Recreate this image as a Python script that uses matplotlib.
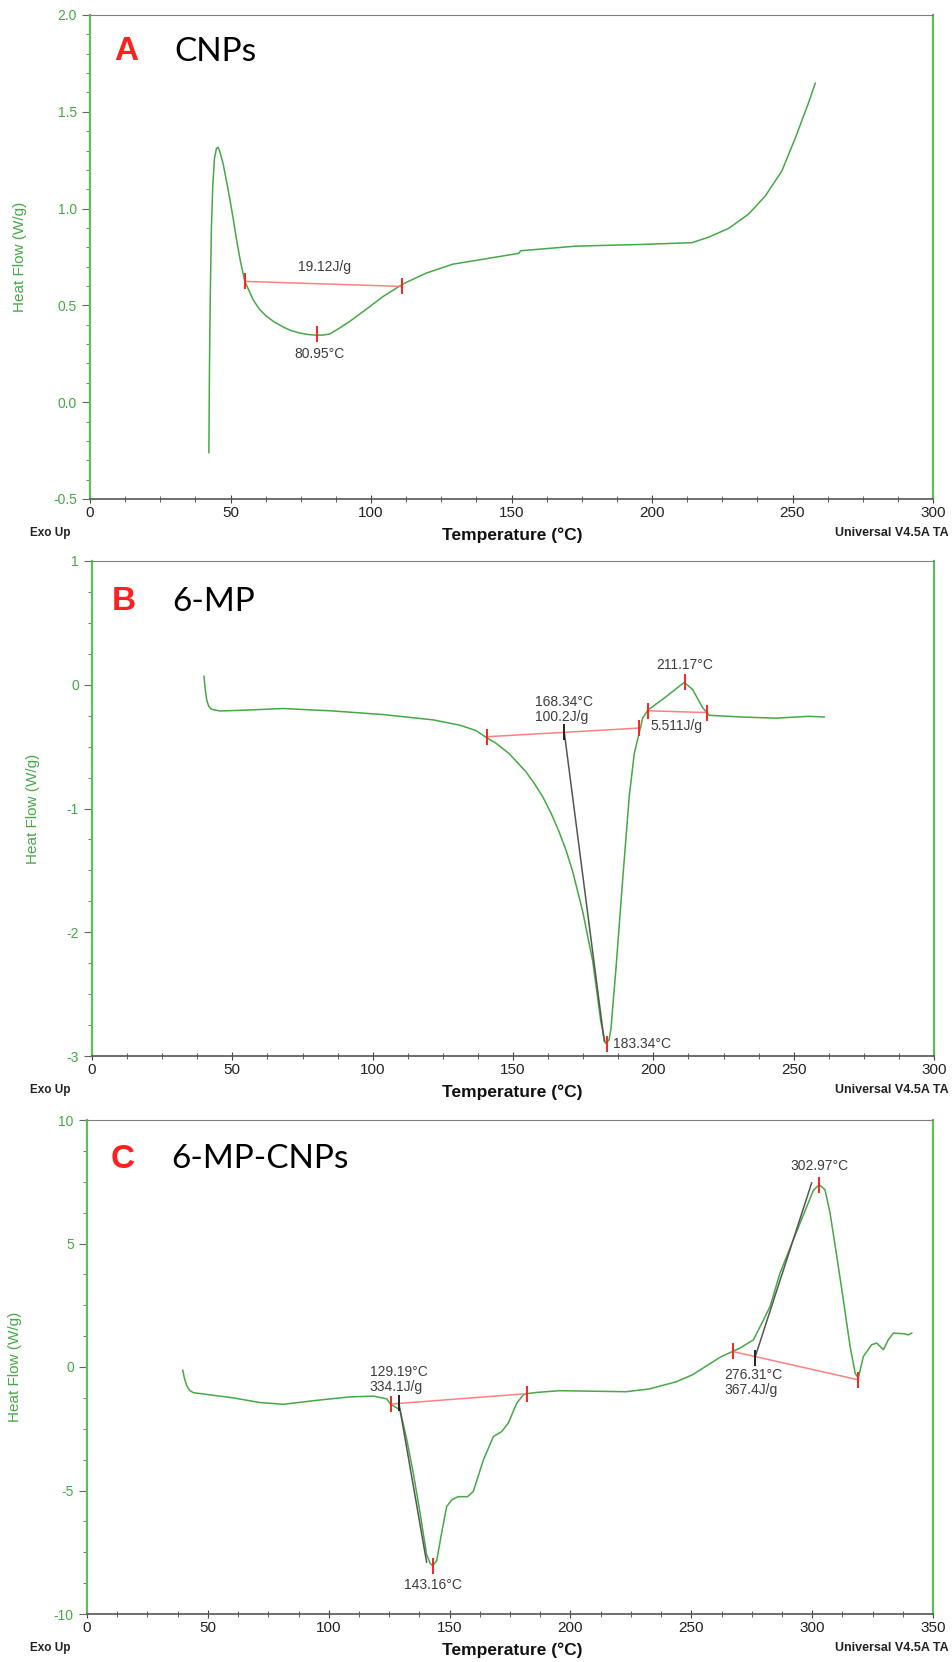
import matplotlib
matplotlib.use("Agg")
import matplotlib.pyplot as plt
from matplotlib.ticker import MultipleLocator, FormatStrFormatter

plt.rcParams["axes.unicode_minus"] = False
plt.rcParams["font.family"] = ["Liberation Sans", "DejaVu Sans"]

# Данные кривых ДСК (температура, тепловой поток)
t_a = [42.3, 42.5, 42.8, 43.2, 43.7, 44.3, 45.0, 45.6, 46.3, 47.4, 48.6, 49.8, 51.0, 52.1, 53.5,
       55.1, 58.1, 60.3, 62.8, 65.5, 68.7, 71.5, 74.7, 77.5, 80.6, 83.0, 85.3, 88.5, 92.4, 98.4,
       104.3, 111.4, 119.7, 129.1, 137.2, 152.6, 153.2, 172.8, 196.5, 214.2, 220.1, 227.3,
       234.4, 240.3, 246.2, 250.9, 255.7, 258.1]
hf_a = [-0.26, 0.15, 0.55, 0.9, 1.12, 1.26, 1.31, 1.317, 1.29, 1.23, 1.14, 1.046, 0.945, 0.843,
        0.73, 0.624, 0.528, 0.48, 0.444, 0.415, 0.389, 0.37, 0.357, 0.35, 0.346, 0.347, 0.352,
        0.38, 0.417, 0.481, 0.546, 0.611, 0.667, 0.713, 0.732, 0.769, 0.782, 0.806, 0.815,
        0.824, 0.852, 0.898, 0.972, 1.065, 1.194, 1.361, 1.546, 1.648]

t_b = [39.9, 40.3, 40.9, 41.6, 42.6, 45.6, 55.0, 68.1, 86.0, 103.8, 121.6, 131.1, 136.8, 140.7,
       143.9, 148.7, 151.6, 154.6, 157.6, 160.6, 163.5, 166.5, 168.9, 171.3, 174.8, 178.4,
       181.3, 182.9, 183.3, 184.2, 184.9, 186.7, 189.1, 191.4, 193.2, 195.0, 196.2, 198.0,
       204.5, 211.0, 214.0, 217.5, 219.9, 231.8, 243.7, 255.5, 260.9]
hf_b = [0.068, -0.03, -0.126, -0.175, -0.198, -0.212, -0.205, -0.192, -0.212, -0.241, -0.284,
        -0.327, -0.37, -0.429, -0.472, -0.558, -0.63, -0.703, -0.798, -0.905, -1.035, -1.193,
        -1.338, -1.511, -1.829, -2.232, -2.723, -2.896, -2.9, -2.87, -2.78, -2.29, -1.569,
        -0.905, -0.558, -0.385, -0.27, -0.206, -0.097, 0.019, -0.039, -0.183, -0.247, -0.261,
        -0.27, -0.255, -0.261]

t_c = [39.6, 40.3, 41.2, 42.5, 44.0, 49.5, 60.5, 71.6, 81.2, 95.0, 108.8, 118.5, 124.0, 125.6,
       127.5, 129.5, 132.3, 135.0, 137.8, 140.5, 142.0, 143.0, 144.7, 146.7, 148.8, 150.9,
       153.5, 157.4, 159.8, 164.0, 168.1, 171.6, 174.3, 177.8, 180.5, 181.9, 186.0, 195.4,
       223.0, 232.6, 243.7, 250.6, 257.5, 262.0, 267.1, 270.2, 275.7, 278.5, 282.6, 286.7,
       292.2, 297.8, 300.5, 302.9, 305.3, 307.4, 310.2, 312.9, 315.7, 317.8, 319.1, 321.2,
       324.6, 326.7, 329.5, 331.5, 333.6, 337.7, 339.8, 341.2]
hf_c = [-0.13, -0.45, -0.75, -0.95, -1.04, -1.11, -1.25, -1.44, -1.51, -1.35, -1.21, -1.18,
        -1.29, -1.5, -1.62, -1.73, -2.95, -4.3, -5.92, -7.6, -7.95, -8.05, -7.83, -6.73, -5.65,
        -5.38, -5.25, -5.25, -5.04, -3.76, -2.82, -2.61, -2.27, -1.46, -1.13, -1.08, -1.03,
        -0.96, -1.0, -0.89, -0.6, -0.31, 0.12, 0.4, 0.63, 0.77, 1.1, 1.64, 2.45, 3.8, 5.15,
        6.5, 7.15, 7.38, 7.18, 6.24, 4.48, 2.72, 0.83, -0.25, -0.45, 0.43, 0.9, 0.97, 0.7,
        1.1, 1.37, 1.35, 1.3, 1.37]

GREEN = "#46a846"
AX_GREEN = "#5cbf5c"
RED = "#ff2020"
TXT = "#3c3c3c"

W, H = 952, 1662
fig = plt.figure(figsize=(W / 100, H / 100), dpi=100)


def fx(px):
    return px / W


def fy(py):
    return 1 - py / H


def make_axes(left, top, right, bottom, xmax, ylim, ymaj, ymin):
    ax = fig.add_axes([fx(left), fy(bottom), fx(right - left), (bottom - top) / H])
    ax.set_xlim(0, xmax)
    ax.set_ylim(*ylim)
    ax.xaxis.set_major_locator(MultipleLocator(50))
    ax.xaxis.set_minor_locator(MultipleLocator(12.5))
    ax.yaxis.set_major_locator(MultipleLocator(ymaj))
    ax.yaxis.set_minor_locator(MultipleLocator(ymin))
    for s in ["left", "right"]:
        ax.spines[s].set_color(AX_GREEN)
        ax.spines[s].set_linewidth(1.6)
    ax.spines["top"].set_color("#808080")
    ax.spines["bottom"].set_color("#555555")
    ax.spines["bottom"].set_linewidth(1.2)
    ax.tick_params(axis="y", which="both", direction="out", colors="#666666",
                   labelcolor=GREEN, labelsize=10)
    ax.tick_params(axis="y", which="major", length=6)
    ax.tick_params(axis="y", which="minor", length=3)
    ax.tick_params(axis="x", which="both", direction="inout", colors="#444444",
                   labelcolor="#222222", labelsize=11, pad=2)
    ax.tick_params(axis="x", which="major", length=6)
    ax.tick_params(axis="x", which="minor", length=4)
    return ax


def footer(bottom, ylab_x, top):
    fig.text(fx(50), fy(bottom + 34), "Exo Up", fontsize=8.5, fontweight="bold",
             color="#222222", ha="center", va="center")
    fig.text(fx(892), fy(bottom + 34), "Universal V4.5A TA", fontsize=9, fontweight="bold",
             color="#222222", ha="center", va="center")
    fig.text(fx(512), fy(bottom + 36), "Temperature (°C)", fontsize=12.5, fontweight="bold",
             color="#111111", ha="center", va="center")
    fig.text(fx(ylab_x), fy((top + bottom) / 2), "Heat Flow (W/g)", fontsize=11,
             color=GREEN, rotation=90, ha="center", va="center")


def panel_title(letter, name, px, py):
    fig.text(fx(px), fy(py), letter, fontsize=24, fontweight="bold", color=RED,
             ha="left", va="center")
    fig.text(fx(px + 60), fy(py), name, fontsize=24, color="black",
             ha="left", va="center", family="Lato")


def tick(ax, x, y, color=RED, size=11):
    ax.plot([x], [y], marker="|", color=color, markersize=size, mew=1.4, zorder=5)


ann = dict(fontsize=10, color=TXT)

# ---------------- A: CNPs ----------------
A_box = (90, 15, 933, 499)
axA = make_axes(*A_box, 300, (-0.5, 2.0), 0.5, 0.1)
axA.yaxis.set_major_formatter(FormatStrFormatter("%.1f"))
axA.plot(t_a, hf_a, color=GREEN, lw=1.1)
axA.plot([55.1, 111.0], [0.624, 0.598], color="#ff8080", lw=1.1)
tick(axA, 55.1, 0.624)
tick(axA, 111.0, 0.598)
tick(axA, 80.95, 0.35)
axA.text(83.5, 0.66, "19.12J/g", ha="center", va="bottom", **ann)
axA.text(81.5, 0.25, "80.95°C", ha="center", va="center", **ann)
footer(A_box[3], 20, A_box[1])
panel_title("A", "CNPs", 114, 52)

# ---------------- B: 6-MP ----------------
B_box = (92, 561, 934, 1056)
axB = make_axes(*B_box, 300, (-3, 1), 1, 0.25)
axB.plot(t_b, hf_b, color=GREEN, lw=1.1)
axB.plot([140.7, 195.0], [-0.42, -0.35], color="#ff8080", lw=1.1)
axB.plot([198.0, 219.1], [-0.21, -0.225], color="#ff8080", lw=1.1)
axB.plot([168.3, 182.5], [-0.39, -2.88], color="#555555", lw=1.1)
tick(axB, 140.7, -0.42)
tick(axB, 195.0, -0.35)
tick(axB, 198.0, -0.21)
tick(axB, 219.1, -0.225)
tick(axB, 168.3, -0.38, color="#222222")
tick(axB, 211.17, 0.02)
tick(axB, 183.34, -2.9)
axB.text(157.9, -0.2, "168.34°C\n100.2J/g", ha="left", va="center", linespacing=1.1, **ann)
axB.text(199.1, -0.33, "5.511J/g", ha="left", va="center", **ann)
axB.text(211.17, 0.16, "211.17°C", ha="center", va="center", **ann)
axB.text(185.8, -2.9, "183.34°C", ha="left", va="center", **ann)
footer(B_box[3], 33, B_box[1])
panel_title("B", "6-MP", 112, 602)

# ---------------- C: 6-MP-CNPs ----------------
C_box = (87, 1120, 933, 1614)
axC = make_axes(*C_box, 350, (-10, 10), 5, 1.25)
axC.plot(t_c, hf_c, color=GREEN, lw=1.1)
axC.plot([125.6, 181.9], [-1.5, -1.08], color="#ff8080", lw=1.1)
axC.plot([267.1, 319.1], [0.63, -0.52], color="#ff8080", lw=1.1)
axC.plot([129.1, 140.5], [-1.5, -7.9], color="#555555", lw=1.1)
axC.plot([276.4, 299.8], [0.4, 7.45], color="#555555", lw=1.1)
tick(axC, 125.6, -1.5)
tick(axC, 181.9, -1.08)
tick(axC, 129.1, -1.47, color="#222222")
tick(axC, 143.16, -8.05)
tick(axC, 267.1, 0.63)
tick(axC, 319.1, -0.52)
tick(axC, 276.4, 0.36, color="#222222")
tick(axC, 302.9, 7.38)
axC.text(117.0, -0.52, "129.19°C\n334.1J/g", ha="left", va="center", linespacing=1.1, **ann)
axC.text(143.3, -8.84, "143.16°C", ha="center", va="center", **ann)
axC.text(263.7, -0.62, "276.31°C\n367.4J/g", ha="left", va="center", linespacing=1.1, **ann)
axC.text(303.0, 8.12, "302.97°C", ha="center", va="center", **ann)
footer(C_box[3], 15, C_box[1])
panel_title("C", "6-MP-CNPs", 111, 1159)

fig.savefig("out.png", dpi=100)
